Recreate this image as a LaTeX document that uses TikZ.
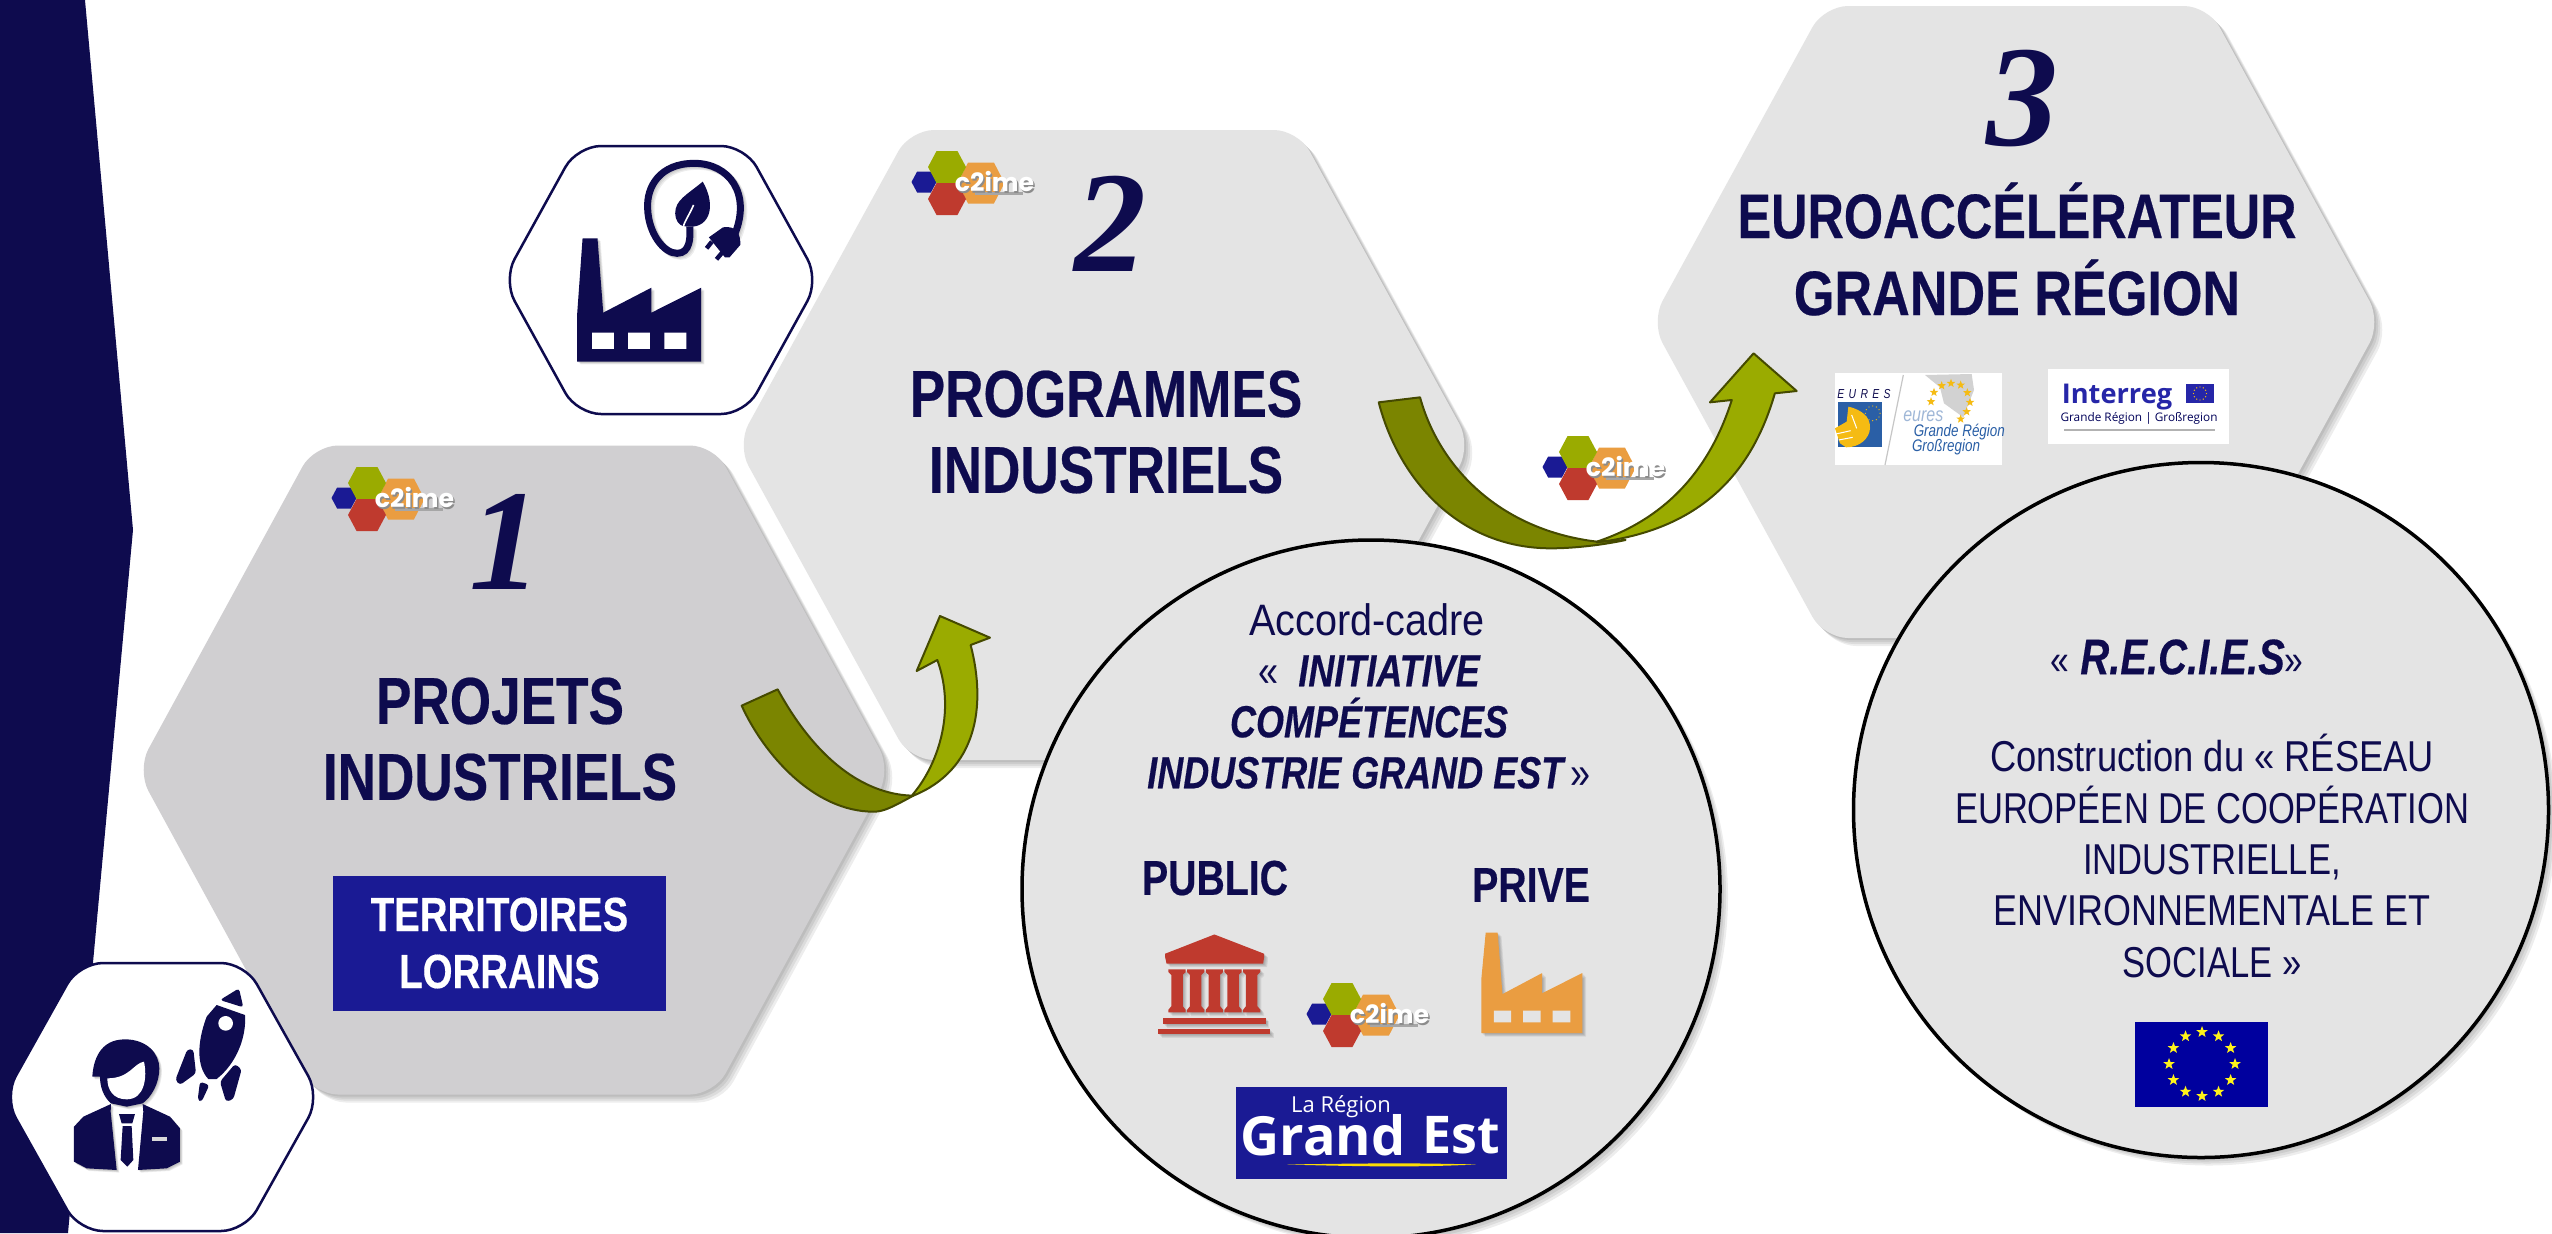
\documentclass[tikz,border=0pt]{standalone}
\usepackage{fontspec}
\usetikzlibrary{shapes.geometric}
\setmainfont{Liberation Sans}
\newfontfamily\cond[FakeStretch=0.8,BoldFeatures={FakeBold=0.35},BoldItalicFeatures={FakeBold=0.35}]{Liberation Sans}
\newfontfamily\condw[FakeStretch=0.9]{Liberation Sans}
\newfontfamily\dig{Liberation Serif}
\newfontfamily\pop{Poppins}
\newfontfamily\opn{Open Sans}
\definecolor{navy}{HTML}{0E0B4E}
\definecolor{royal}{HTML}{1A1A94}
\definecolor{hexa}{HTML}{D0CFD1}
\definecolor{hexb}{HTML}{E4E4E4}
\definecolor{olived}{HTML}{7B8500}
\definecolor{olivel}{HTML}{9AAB00}
\definecolor{olivee}{HTML}{454A00}
\definecolor{lgreen}{HTML}{9AAB00}
\definecolor{lred}{HTML}{BF3A2E}
\definecolor{lorange}{HTML}{EA9D41}
\definecolor{eublue}{HTML}{2A5FA6}
\definecolor{euyellow}{HTML}{F5BB13}
\tikzset{
  txt/.style={inner sep=0pt,outer sep=0pt,text=navy,align=center},
  big/.style={txt,font={\cond\bfseries\fontsize{33.2}{38}\selectfont}},
  mid/.style={txt,font={\cond\bfseries\fontsize{24.5}{29}\selectfont}},
  reg/.style={txt,font={\cond\fontsize{21.6}{25.7}\selectfont}},
  num/.style={txt,font={\dig\bfseries\itshape\fontsize{72}{72}\selectfont}},
  ital/.style={txt,font={\cond\bfseries\itshape\fontsize{22.5}{25.5}\selectfont}},
  iconhex/.style={fill=white,draw=navy,line width=1.25pt},
  ystar/.style={star,star points=5,star point ratio=2.4,inner sep=0pt,minimum size=6pt,fill=#1,draw=none},
}
\newcommand\hexpath[5]{[rounded corners=12pt] ({#1-#3},#2) -- ({#1-#5},{#2-#4}) -- ({#1+#5},{#2-#4}) -- ({#1+#3},#2) -- ({#1+#5},{#2+#4}) -- ({#1-#5},{#2+#4}) -- cycle}
\newcommand\softfill[2]{\foreach \d in {2,4,6,8}{\fill[black,opacity=.07,shift={(\d,\d)}] #2;}\fill[#1] #2;}
\newcommand\minihex[5]{\fill[#1] ({#2-#4},#3) -- ({#2-0.55*#4},{#3-#5}) -- ({#2+0.55*#4},{#3-#5}) -- ({#2+#4},#3) -- ({#2+0.55*#4},{#3+#5}) -- ({#2-0.55*#4},{#3+#5}) -- cycle;}
\newcommand\logo[3]{%
  \begin{scope}[shift={(#1,#2)}]
    \minihex{royal}{-23}{-1}{12.5}{10.5}
    \minihex{lorange}{34}{0}{23.5}{20.5}
    \minihex{lgreen}{0}{-16}{19}{16}
    \minihex{lred}{0}{16}{19}{16}
    \fill[gray!70] (28,9) rectangle (76,11.5);
    \node[inner sep=0pt,text=black!45,font={\pop\bfseries\fontsize{12.6}{13}\selectfont}] (#3s) at (49,0) {c2ime};
    \node[inner sep=0pt,text=white,font={\pop\bfseries\fontsize{12.6}{13}\selectfont}] (#3) at (47.5,-2) {c2ime};
  \end{scope}}
\begin{document}
\begin{tikzpicture}[x=0.5pt,y=-0.5pt]
\clip (0,0) rectangle (2552,1233);
\fill[white] (0,0) rectangle (2552,1233);
% left band
\fill[navy] (0,0) -- (85,0) -- (133,530) -- (68,1233) -- (0,1233) -- cycle;
% main hexagons
\softfill{hexa}{\hexpath{514}{770}{377}{324.5}{200}}
\softfill{hexb}{\hexpath{1104}{445}{367}{315}{194}}
\softfill{hexb}{\hexpath{2016}{322}{365}{316}{192}}
% icon hexagons
\path[iconhex] \hexpath{661}{280}{158}{134}{84};
\path[iconhex] \hexpath{162}{1097}{158}{134}{83};
% numbers
\node[num] (n1) at (505,542) {1};
\node[num] (n2) at (1110,224) {2};
\node[num] (n3) at (2022,99) {3};
% titles
\node[big] (t1) at (500,739) {PROJETS\\INDUSTRIELS};
\node[big] (t2) at (1106,432) {PROGRAMMES\\INDUSTRIELS};
\node[big,font={\cond\bfseries\fontsize{31.5}{38.5}\selectfont}] (t3) at (2017,249) {EUROACCÉLÉRATEUR\\\scalebox{1.035}[1]{GRANDE RÉGION}};
% territoires
\fill[royal] (333,875.5) rectangle (666,1011);
\node[txt,text=white,font={\cond\bfseries\fontsize{24}{28.5}\selectfont}] (terr) at (499.5,943) {TERRITOIRES\\LORRAINS};
% logos
\logo{367}{499}{logoa}
\logo{947}{183}{logob}
\logo{1578}{468}{logoc}
% factory + plug icon
\begin{scope}[shift={(480,120)},xscale=0.3827,yscale=0.3333]
  \softfill{navy}{(268,355) -- (307,355) -- (322,578) -- (448,503) -- (448,578) -- (578,503) -- (578,725) -- (254,725) -- (254,580) -- cycle}
  \fill[white] (293,638) rectangle (350,687) (387,638) rectangle (444,687) (482,638) rectangle (539,687);
  \foreach \d in {3,6,9}{\draw[black,opacity=.07,line width=3.5pt,shift={(\d,\d)}] (665,345) .. controls (710,220) and (650,130) .. (560,130) .. controls (470,130) and (435,200) .. (438,265) .. controls (440,340) and (480,400) .. (515,400) .. controls (550,400) and (550,350) .. (548,320);}
  \draw[navy,line width=3.5pt] (665,345) .. controls (710,220) and (650,130) .. (560,130) .. controls (470,130) and (435,200) .. (438,265) .. controls (440,340) and (480,400) .. (515,400) .. controls (550,400) and (550,350) .. (548,320);
  \fill[navy] (582,185) .. controls (540,225) and (510,240) .. (510,280) .. controls (510,300) and (520,315) .. (530,318) .. controls (600,335) and (620,260) .. (582,185) -- cycle;
  \draw[white,line width=0.8pt] (558,255) .. controls (545,290) and (530,310) .. (530,330);
  \fill[navy] (598,352) -- (635,322) .. controls (670,315) and (682,345) .. (680,375) -- (652,412) -- (640,412) -- cycle;
  \draw[navy,line width=2.2pt] (606,365) -- (592,385) (634,396) -- (618,418);
\end{scope}
% person + rocket icon
\begin{scope}[shift={(50,980)},scale=0.3333]
  \softfill{navy}{(127,290) .. controls (130,240) and (150,178) .. (225,178) .. controls (290,178) and (328,220) .. (328,265) .. controls (328,310) and (305,350) .. (278,370) -- (230,380) -- (183,370) .. controls (160,350) and (150,320) .. (150,290) -- cycle}
  \fill[white] (172,295) .. controls (240,295) and (250,250) .. (282,245) .. controls (292,290) and (285,358) .. (230,358) .. controls (190,358) and (172,330) .. (172,295) -- cycle;
  \softfill{navy}{(183,372) -- (100,410) -- (72,440) -- (72,545) -- (110,565) -- (200,570) -- (182,395) -- cycle}
  \softfill{navy}{(278,372) -- (360,410) -- (390,445) -- (390,545) -- (350,565) -- (264,570) -- (280,395) -- cycle}
  \fill[navy] (207,402) -- (255,402) -- (247,430) -- (215,430) -- cycle (218,438) -- (245,438) -- (250,540) -- (232,560) -- (212,540) -- cycle;
  \fill[white!70!gray] (307,470) rectangle (352,482);
  \fill[navy,rounded corners=1.5pt] (567,25) -- (510,60) -- (580,82) -- cycle;
  \fill[navy] (500,75) -- (585,105) .. controls (590,170) and (560,250) .. (500,297) -- (475,297) .. controls (440,260) and (440,190) .. (470,110) -- cycle;
  \fill[white] (527,130) circle [radius=22];
  \fill[navy,rounded corners=1.5pt] (412,208) -- (430,208) -- (438,280) -- (390,315) -- (376,300) -- cycle;
  \fill[navy,rounded corners=1.5pt] (555,252) -- (575,268) -- (550,358) -- (528,365) -- (510,305) -- cycle;
  \fill[navy,rounded corners=1.5pt] (450,305) -- (478,315) -- (455,365) -- (443,360) -- cycle;
\end{scope}
% EURES logo
\begin{scope}[shift={(1820,360)},scale=0.3333]
  \fill[white] (45,38) rectangle (547,315);
  \fill[gray!35] (315,45) -- (455,42) -- (462,90) -- (450,120) -- (430,172) -- (372,130) -- (360,82) -- cycle;
  \fill[eublue] (55,125) rectangle (185,262);
  \fill[euyellow] (85,140) .. controls (130,150) and (152,175) .. (150,205) .. controls (148,235) and (120,262) .. (78,262) -- (60,250) -- (45,205) -- (80,185) -- cycle;
  \draw[white,line width=0.5pt] (48,222) -- (92,212) (56,240) -- (98,232) (95,165) -- (110,205);
  \foreach \a in {0,30,...,330}{\fill[euyellow] ({158+22*cos(\a)},{160+22*sin(\a)}) circle [radius=2];}
  \draw[gray!45,line width=0.6pt] (250,45) -- (195,315);
  \node[inner sep=0pt,text=navy,font={\cond\itshape\fontsize{6.5}{6.5}\selectfont}] (eur1) at (132,103) {E\,\,U\,\,R\,\,E\,\,S};
  \node[inner sep=0pt,text=eublue!45,font={\cond\itshape\fontsize{10}{10}\selectfont}] (eur2) at (310,168) {eures};
  \node[inner sep=0pt,text=eublue,font={\cond\itshape\fontsize{8.4}{9}\selectfont}] (eur3) at (418,215) {Grande Région};
  \node[inner sep=0pt,text=eublue,font={\cond\itshape\fontsize{8.4}{9}\selectfont}] (eur4) at (378,262) {Großregion};
  \foreach \i/\x/\y in {1/365/77,2/393/70,3/422/75,4/442/98,5/450/127,6/440/155,7/422/177,8/333/125,9/342/97}{\node[ystar=euyellow,minimum size=4.5pt] (ms\i) at (\x,\y) {};}
\end{scope}
% Interreg logo
\fill[white] (2048,369) rectangle (2229,444);
\node[inner sep=0pt,text=blue!60!black!85,font={\opn\bfseries\fontsize{13.6}{14}\selectfont}] (intr) at (2117,397) {Interreg};
\fill[blue!60!black!85] (2186,384) rectangle (2214,403);
\foreach \a in {0,30,...,330}{\fill[euyellow] ({2200+6.5*cos(\a)},{393.5+6.5*sin(\a)}) circle [radius=0.7];}
\node[inner sep=0pt,text=black!65!blue,font={\opn\fontsize{5.9}{6}\selectfont}] (intg) at (2139,418) {Grande Région | Großregion};
\fill[gray!60] (2064,428.5) rectangle (2215,430.5);
% circle 1
\softfill{hexb}{(1371,889) circle [radius=349]}
\draw[black,line width=1.75pt] (1371,889) circle [radius=349];
\node[txt,font={\condw\fontsize{22}{26}\selectfont}] (acc) at (1367,620) {Accord-cadre};
\node[ital] (ini) at (1369,722) {{\cond\mdseries\upshape «}\ \ INITIATIVE\\COMPÉTENCES\\INDUSTRIE GRAND EST{\cond\mdseries\upshape\,»}};
\node[mid] (pub) at (1215,878) {PUBLIC};
\node[mid] (pri) at (1531,885) {PRIVE};
\begin{scope}[shift={(1000,530)},xscale=0.4785,yscale=0.4484]
  \softfill{lred}{(448,902) -- (552,945) -- (552,952) -- (550,967) -- (348,967) -- (345,952) -- (345,945) -- cycle}
  \foreach \c in {370,409,448,487,526}{
    \softfill{lred}{({\c-18},980) -- ({\c+18},980) -- ({\c+18},986) -- ({\c+12},992) -- ({\c+12},1062) -- ({\c+18},1070) -- ({\c+18},1076) -- ({\c-18},1076) -- ({\c-18},1070) -- ({\c-12},1062) -- ({\c-12},992) -- ({\c-18},986) -- cycle}}
  \softfill{lred}{(341,1088) rectangle (555,1102)}
  \softfill{lred}{(331,1113) rectangle (565,1125)}
  \softfill{lorange}{(1015,898) -- (1040,898) -- (1050,1035) -- (1133,988) -- (1133,1033) -- (1217,988) -- (1217,1122) -- (1006,1122) -- (1006,1000) -- cycle}
  \fill[hexb] (1032,1072) rectangle (1068,1098) (1093,1072) rectangle (1130,1098) (1155,1072) rectangle (1192,1098);
\end{scope}
\logo{1342}{1015}{logod}
% Grand Est logo
\fill[royal] (1236,1087) rectangle (1507,1179);
\node[inner sep=0pt,text=white,font={\opn\fontsize{11}{11}\selectfont}] (gea) at (1341,1107) {La Région};
\node[inner sep=0pt,text=white,font={\opn\bfseries\fontsize{27}{28}\selectfont}] (geb) at (1323,1135) {Grand};
\node[inner sep=0pt,text=white,font={\opn\bfseries\fontsize{26}{28}\selectfont}] (gec) at (1461,1135) {Est};
\fill[yellow!80!orange] (1287,1164.5) .. controls (1380,1163) and (1420,1163) .. (1476,1164.5) .. controls (1420,1167) and (1380,1167) .. (1287,1164.5);
% circle 2
\softfill{hexb}{(2201,810) circle [radius=347.5]}
\draw[black,line width=1.75pt] (2201,810) circle [radius=347.5];
\node[txt] (rec) at (2177,657) {{\cond\fontsize{21}{25}\selectfont «}\ \ {\cond\bfseries\itshape\fontsize{25}{29}\selectfont R.E.C.I.E.S}{\cond\fontsize{21}{25}\selectfont »}};
\node[reg] (con) at (2212,856) {\scalebox{1.05}[1]{Construction du « RÉSEAU}\\EUROPÉEN DE COOPÉRATION\\INDUSTRIELLE,\\\scalebox{1.04}[1]{ENVIRONNEMENTALE ET}\\SOCIALE »};
% EU flag
\fill[blue!62!black] (2135,1022) rectangle (2268,1107);
\foreach \a in {0,30,...,330}{\node[ystar=yellow!90!white] (es\a) at ({2202+33*cos(\a)},{1064+32*sin(\a)}) {};}
% arrow 1
\begin{scope}[shift={(730,600)},scale=0.3333]
  \filldraw[fill=olived,draw=olivee,line width=1pt,line join=round] (35,317) .. controls (100,460) and (250,635) .. (430,635) .. controls (460,635) and (480,625) .. (550,587) .. controls (420,585) and (270,500) .. (143,268) -- cycle;
  \filldraw[fill=olivel,draw=olivee,line width=1pt,line join=round] (547,585) .. controls (620,500) and (680,340) .. (622,180) -- (560,213) -- (630,48) -- (780,113) -- (722,135) .. controls (770,320) and (740,510) .. (550,587) -- cycle;
\end{scope}
% arrow 2
\begin{scope}[shift={(1350,340)},xscale=0.5741,yscale=0.3333]
  \filldraw[fill=olived,draw=olivee,line width=1pt,line join=round] (50,187) .. controls (85,420) and (190,625) .. (350,625) .. controls (390,625) and (440,615) .. (480,600) -- (430,605) .. controls (260,570) and (155,380) .. (122,172) -- cycle;
  \filldraw[fill=olivel,draw=olivee,line width=1pt,line join=round] (430,605) .. controls (560,530) and (630,370) .. (665,180) -- (627,187) -- (703,40) -- (778,153) -- (740,160) .. controls (700,400) and (610,570) .. (430,607) -- cycle;
\end{scope}
\end{tikzpicture}
\end{document}
